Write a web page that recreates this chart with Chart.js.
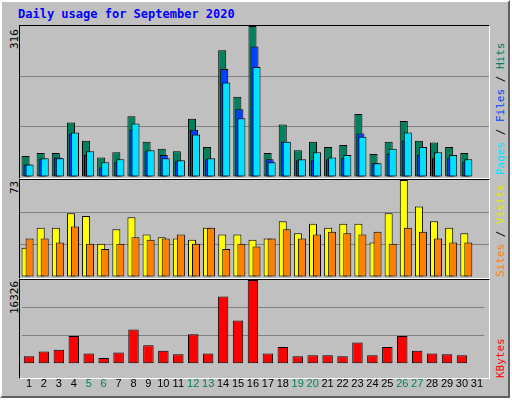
<!DOCTYPE html>
<html>
<head>
<meta charset="utf-8">
<script src="https://cdn.jsdelivr.net/npm/chart.js@4"></script>
<style>
  body { margin: 0; background: #fff; }
  #frame { position: absolute; left: 0; top: 0; width: 506px; height: 394px; background: #c0c0c0;
           border-top: 2px solid #fff; border-left: 2px solid #fff; border-right: 2px solid #606060; border-bottom: 2px solid #606060; }
  .panel { position: absolute; left: 19px; width: 469px; background: #c0c0c0;
           border-top: 1px solid #000; border-left: 1px solid #000; border-right: 1px solid #fff; border-bottom: 1px solid #fff; }
  .cv { position: absolute; }
  .txt { position: absolute; font-family: "DejaVu Sans Mono", monospace; font-size: 11px; white-space: nowrap; }
  .rot { transform: rotate(-90deg); transform-origin: left top; }
  #title { left: 18px; top: 7px; color: #0000ff; font-weight: bold; font-size: 12px; }
</style>
</head>
<body>
<div id="frame"></div>
<div class="txt" id="title">Daily usage for September 2020</div>
<div class="panel" style="top:25px;height:152px"></div>
<div class="panel" style="top:179px;height:98px"></div>
<div class="panel" style="top:279px;height:98px"></div>
<div class="txt rot" style="left:8px;top:49px">316</div>
<div class="txt rot" style="left:8px;top:194px">73</div>
<div class="txt rot" style="left:8px;top:314px">16326</div>
<div class="txt rot" style="left:494px;top:175px"><span style="color:#00e0ff">Pages</span> / <span style="color:#0040ff">Files</span> / <span style="color:#00805c">Hits</span></div>
<div class="txt rot" style="left:494px;top:277px"><span style="color:#ff8000">Sites</span> / <span style="color:#e8e800">Visits</span></div>
<div class="txt rot" style="left:494px;top:378px"><span style="color:#ff0000">KBytes</span></div>
<div class="cv" style="left:20px;top:26px;width:469px;height:151px"><canvas id="c1"></canvas></div>
<div class="cv" style="left:20px;top:180px;width:469px;height:97px"><canvas id="c2"></canvas></div>
<div class="cv" style="left:20px;top:280px;width:469px;height:117px"><canvas id="c3"></canvas></div>
<script>
const days = Array.from({ length: 31 }, (_, i) => String(i + 1));
const weekendDays = [5, 6, 12, 13, 19, 20, 26, 27];

const hits   = [44,50,50,114,76,41,52,127,74,59,54,122,63,265,168,316,50,110,56,74,63,67,132,48,74,117,76,72,63,50,null];
const files  = [26,37,41,91,46,20,31,99,54,46,33,99,37,226,142,273,37,74,35,35,37,39,91,29,48,76,46,39,41,31,null];
const pages  = [26,39,39,93,54,31,37,112,56,39,35,89,39,198,123,230,31,74,37,52,41,46,84,29,59,93,63,52,46,37,null];
const visits = [22,37,37,48,46,25,36,45,32,30,29,28,37,32,32,28,29,42,33,40,37,40,40,26,48,73,53,42,37,33,null];
const sites  = [29,29,26,38,25,21,25,30,28,29,32,25,37,21,25,23,29,36,29,32,34,33,32,34,25,37,34,29,26,26,null];
const kbytes = [1490,2380,2740,5420,2030,1130,2200,6670,3630,2560,1850,5780,2030,13110,8460,16326,2030,3280,1490,1670,1670,1490,4170,1670,3280,5420,2560,2030,1850,1670,null];

const maxes = [316, 73, 16326];

// leftmost bar sits at the back: draw datasets in index order, last one on top
const backToFront = {
  id: 'backToFront',
  beforeDatasetDraw: chart => !!chart.$drawing,
  afterDatasetsDraw: chart => {
    chart.$drawing = true;
    chart.data.datasets.forEach((d, i) => chart.getDatasetMeta(i).controller.draw());
    chart.$drawing = false;
  }
};

function yAxis(max) {
  return {
    display: true, min: 0, max: max,
    afterBuildTicks: a => { a.ticks = [0, max / 3, 2 * max / 3, max].map(v => ({ value: v })); },
    ticks: { display: false },
    border: { display: false },
    grid: { color: c => (c.index === 1 || c.index === 2) ? '#808080' : 'rgba(0,0,0,0)', lineWidth: 1, drawTicks: false }
  };
}

function makeChart(id, datasets, max, showX) {
  new Chart(document.getElementById(id), {
    type: 'bar',
    data: { labels: days, datasets },
    plugins: [backToFront],
    options: {
      responsive: true, maintainAspectRatio: false, animation: false,
      layout: { padding: 0 },
      plugins: { legend: { display: false }, tooltip: { enabled: false } },
      scales: {
        x: {
          display: showX,
          grid: { display: false },
          border: { display: false },
          ticks: {
            padding: 6, maxRotation: 0, autoSkip: false,
            font: { family: 'Liberation Sans', size: 11 },
            color: c => weekendDays.includes(c.index + 1) ? '#00805c' : '#000'
          }
        },
        y: yAxis(max)
      }
    }
  });
}

const bar = (data, color, cat, barP) => ({
  data, backgroundColor: color, borderColor: '#000', borderWidth: 1, borderSkipped: false,
  categoryPercentage: cat, barPercentage: barP
});

makeChart('c1', [
  bar(hits, '#00805c', 0.4, 4),
  bar(files, '#0040ff', 0.4, 4),
  bar(pages, '#00e0ff', 0.4, 4)
], maxes[0], false);

makeChart('c2', [
  bar(visits, '#ffff00', 0.53, 2),
  bar(sites, '#ff8000', 0.53, 2)
], maxes[1], false);

makeChart('c3', [
  bar(kbytes, '#ff0000', 0.7, 1)
], maxes[2], true);
</script>
</body>
</html>
